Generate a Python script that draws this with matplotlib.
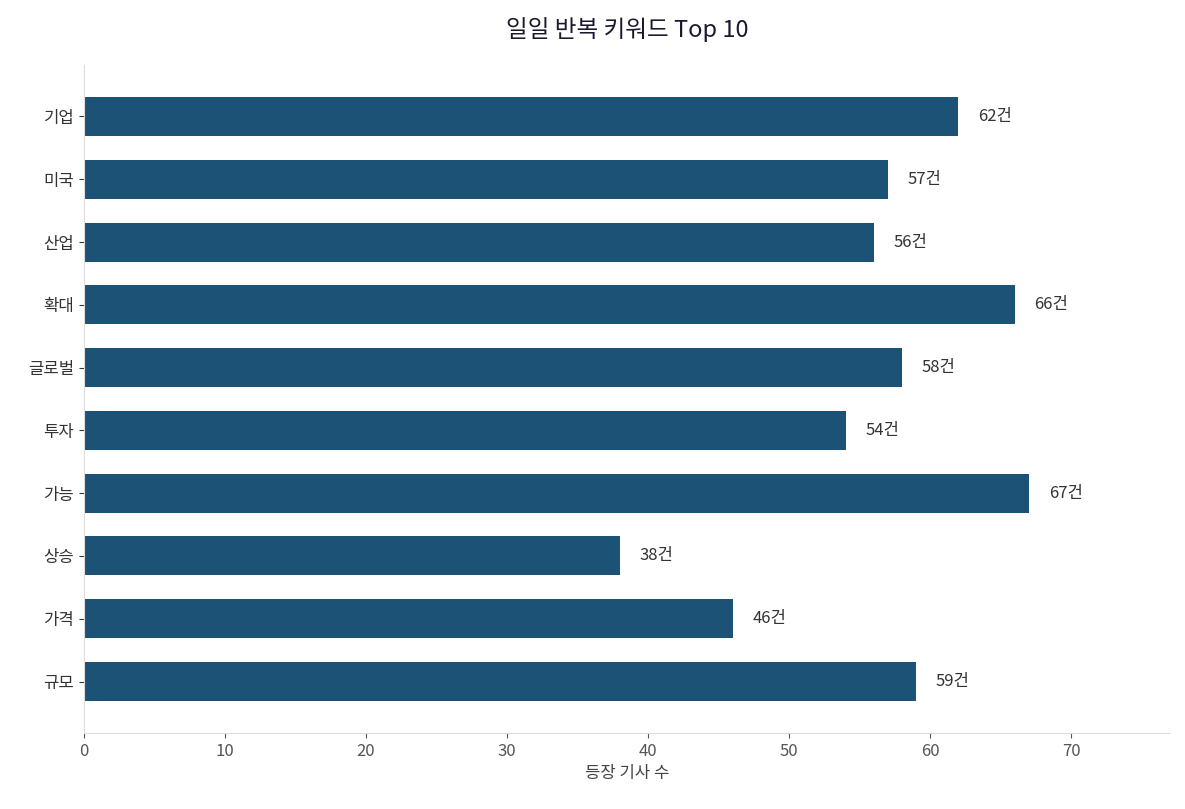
import matplotlib
matplotlib.use("Agg")
import matplotlib.pyplot as plt

plt.rcParams['font.family'] = ['Noto Sans CJK KR', 'DejaVu Sans']

keywords = ["기업", "미국", "산업", "확대", "글로벌", "투자", "가능", "상승", "가격", "규모"]
counts = [62, 57, 56, 66, 58, 54, 67, 38, 46, 59]

fig = plt.figure(figsize=(11.85, 8.09), dpi=100)
ax = fig.add_axes([84/1185, 1-733/809, (1170-84)/1185, (733-65)/809])
y = list(range(len(keywords)))
ax.barh(y, counts, height=0.62, color="#1b5276")
for yi, c in zip(y, counts):
    ax.text(c + 1.4, yi, f"{c}건", va="center", ha="left", fontsize=12, color="#333333")
ax.set_yticks(y)
ax.set_yticklabels(keywords, fontsize=12, color="#333333")
ax.invert_yaxis()
ax.set_ylim(len(keywords) - 1 + 0.82, -0.82)
ax.set_xlim(0, 77)
ax.set_xticks(range(0, 71, 10))
ax.tick_params(axis='x', labelsize=12, colors="#555555")
ax.tick_params(axis='y', colors="#333333")
ax.set_xlabel("등장 기사 수", fontsize=12, color="#444444")
for s in ["top", "right"]:
    ax.spines[s].set_visible(False)
for s in ["left", "bottom"]:
    ax.spines[s].set_color("#dddddd")
ax.set_title("일일 반복 키워드 Top 10", fontsize=17, color="#1a1a2e", pad=20)
fig.savefig("out.png", dpi=100)
